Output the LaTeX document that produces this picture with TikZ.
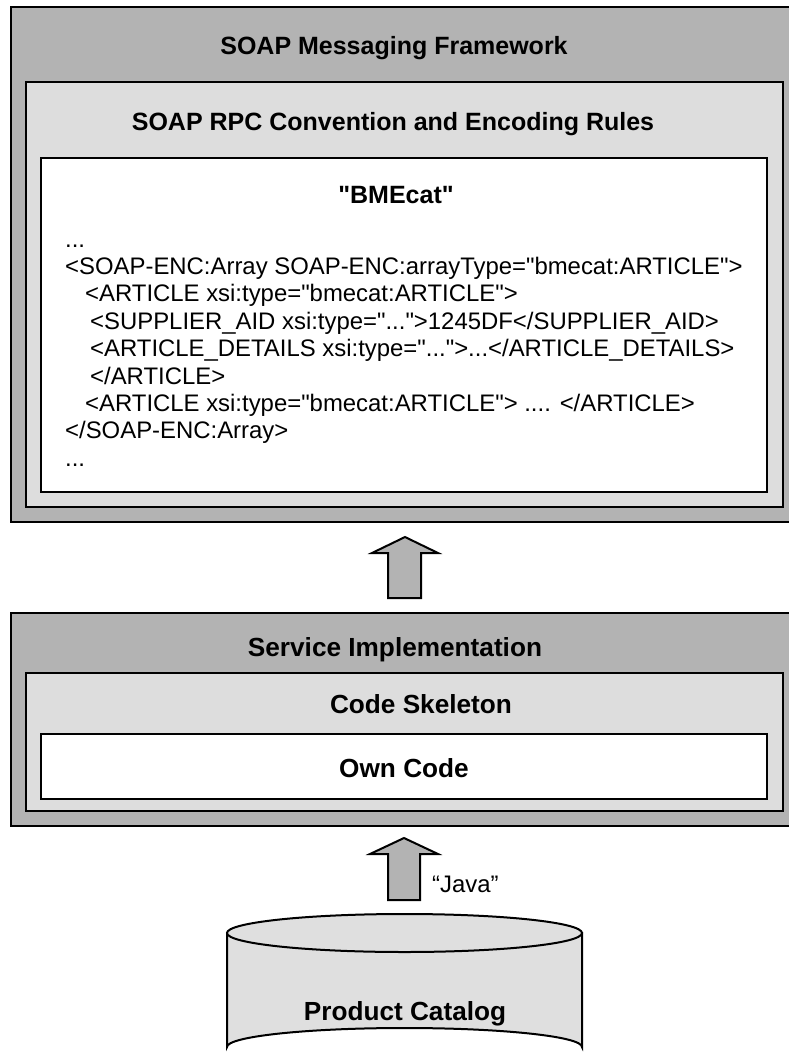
\documentclass[tikz,border=0pt]{standalone}
\usepackage{fontspec}
\setmainfont{Liberation Sans}[Ligatures=TeXOff]
\definecolor{darkg}{RGB}{179,179,179}
\definecolor{lightg}{RGB}{221,221,221}
\definecolor{cylg}{RGB}{223,223,223}
\newcommand{\dq}{\char34{}}
\begin{document}
\begin{tikzpicture}[x=1pt,y=-1pt,
  layer/.style={draw=black,line width=2pt,inner sep=0pt,outer sep=0pt,anchor=north west},
  outerbox/.style={layer,fill=darkg},
  midbox/.style={layer,fill=lightg},
  innerbox/.style={layer,fill=white},
  title/.style={font=\fontsize{26.2}{30}\selectfont\bfseries,anchor=base,inner sep=0pt},
  toptitle/.style={font=\fontsize{25}{30}\selectfont\bfseries,anchor=base,inner sep=0pt},
  code/.style={font=\fontsize{23.9}{27}\selectfont,anchor=base west,inner sep=0pt},
  blockarrow/.style={draw=black,line width=2pt,fill=darkg,line join=miter}]
\useasboundingbox (0,0) rectangle (788,1058);
% upper stack
\node[outerbox,minimum width=787pt,minimum height=515pt] (b1) at (11,7) {};
\node[midbox,minimum width=757pt,minimum height=425pt] (b2) at (26,82) {};
\node[innerbox,minimum width=726pt,minimum height=334pt] (b3) at (41,158) {};
\node[toptitle] (t1) at (394,54) {SOAP Messaging Framework};
\node[toptitle] (t2) at (393,130) {SOAP RPC Convention and Encoding Rules};
\node[toptitle] (t3) at (396,203) {\dq BMEcat\dq};
\node[code] (c1) at (65,247) {...};
\node[code] (c2) at (65,274.4) {<SOAP-ENC:Array SOAP-ENC:arrayType=\dq bmecat:ARTICLE\dq>};
\node[code] (c3) at (85,301.8) {<ARTICLE xsi:type=\dq bmecat:ARTICLE\dq>};
\node[code] (c4) at (90,329.2) {<SUPPLIER\_AID xsi:type=\dq...\dq>1245DF</SUPPLIER\_AID>};
\node[code] (c5) at (90,356.6) {<ARTICLE\_DETAILS xsi:type=\dq...\dq>...</ARTICLE\_DETAILS>};
\node[code] (c6) at (90,384) {</ARTICLE>};
\node[code] (c7) at (85,411.4) {<ARTICLE xsi:type=\dq bmecat:ARTICLE\dq> .... </ARTICLE>};
\node[code] (c8) at (65,438.8) {</SOAP-ENC:Array>};
\node[code] (c9) at (65,466.2) {...};
% arrow between stacks
\draw[blockarrow] (388,598) -- (388,553) -- (372,553) -- (405,537) -- (438,553) -- (421,553) -- (421,598) -- cycle;
% lower stack
\node[outerbox,minimum width=787pt,minimum height=213pt] (l1) at (11,613) {};
\node[midbox,minimum width=757pt,minimum height=138pt] (l2) at (26,673) {};
\node[innerbox,minimum width=726pt,minimum height=65pt] (l3) at (41,734) {};
\node[title] (s1) at (395,656) {Service Implementation};
\node[title] (s2) at (421,713) {Code Skeleton};
\node[title] (s3) at (404,777) {Own Code};
% arrow from database
\draw[blockarrow] (388,900) -- (388,854) -- (370,854) -- (404,838) -- (438,854) -- (420,854) -- (420,900) -- cycle;
\node[code] (java) at (432,892) {“Java”};
% cylinder
\draw[line width=2pt,fill=cylg] (227,933) -- (227,1047) arc[start angle=180,end angle=360,x radius=177.5,y radius=19] -- (582,933) -- cycle;
\draw[line width=2pt,fill=cylg] (404.5,933) ellipse[x radius=177.5,y radius=19];
\node[title] (db) at (405,1020) {Product Catalog};
\end{tikzpicture}
\end{document}
